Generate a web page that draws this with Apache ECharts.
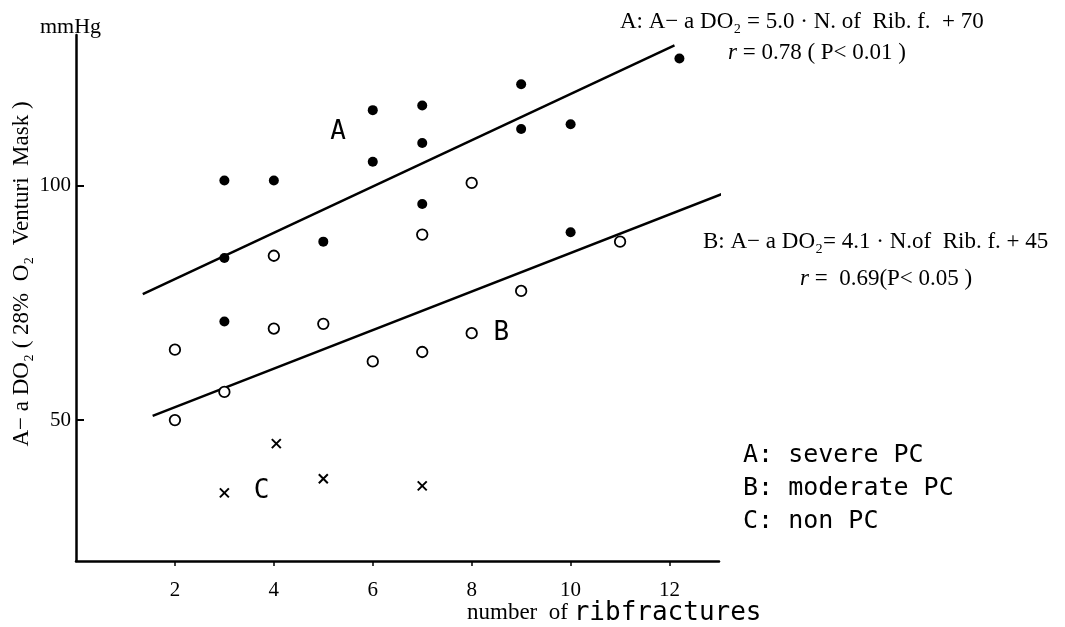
<!DOCTYPE html>
<html>
<head>
<meta charset="utf-8">
<script src="https://cdn.jsdelivr.net/npm/echarts@6/dist/echarts.min.js"></script>
<style>
html, body { margin: 0; padding: 0; background: #fff; }
#main { width: 1065px; height: 627px; }
</style>
</head>
<body>
<div id="main"></div>
<script>
// A: severe PC (filled dots)
const severePC = [
    [3, 101], [4, 101], [3, 84.5], [3, 71], [5, 88],
    [6, 116], [6, 105], [7, 117], [7, 109], [7, 96],
    [9, 121.5], [9, 112], [10, 113], [10, 90], [12.2, 127]
];
// B: moderate PC (open circles)
const moderatePC = [
    [2, 65], [2, 50], [3, 56], [4, 85], [4, 69.5], [5, 70.5],
    [6, 62.5], [7, 64.5], [7, 89.5], [8, 100.5], [8, 68.5],
    [9, 77.5], [11, 88]
];
// C: non PC (crosses)
const nonPC = [[3, 34.5], [4.05, 45], [5, 37.5], [7, 36]];

// regression lines as drawn (end points)
const fitLineA = [[1.35, 76.8], [12.1, 129.8]];
const fitLineB = [[1.55, 50.9], [13.1, 98.3]];

const xTicks = [2, 4, 6, 8, 10, 12];
const yTicks = [50, 100];

// group letters placed in the plot
const groupTags = [
    { name: 'A', value: [5.3, 111.3] },
    { name: 'B', value: [8.6, 68.5] },
    { name: 'C', value: [3.75, 34.8] }
];

const legendLines = ['A: severe PC', 'B: moderate PC', 'C: non PC'];

const serif = '"Liberation Serif", "DejaVu Serif", serif';
const mono = '"DejaVu Sans Mono", monospace';

let myChart = echarts.init(document.getElementById('main'));

let eqRich = {
    r: { fontFamily: serif, fontSize: 23, fontStyle: 'italic', fill: '#000' }
};

let option = {
    backgroundColor: '#fff',
    animation: false,
    grid: { left: 76, right: 346, top: 35, bottom: 66 },
    xAxis: {
        type: 'value',
        min: 0,
        max: 13,
        splitLine: { show: false },
        axisLine: { lineStyle: { color: '#000', width: 2.5 } },
        axisTick: { customValues: xTicks, length: 5, lineStyle: { color: '#000', width: 1.5 } },
        axisLabel: {
            customValues: xTicks,
            margin: 19,
            color: '#000',
            fontFamily: serif,
            fontSize: 21
        }
    },
    yAxis: {
        type: 'value',
        min: 20,
        max: 132,
        splitLine: { show: false },
        axisLine: { show: true, lineStyle: { color: '#000', width: 2.5 } },
        axisTick: { show: true, inside: true, customValues: yTicks, length: 8, lineStyle: { color: '#000', width: 2 } },
        axisLabel: {
            customValues: yTicks,
            margin: 5,
            color: '#000',
            fontFamily: serif,
            fontSize: 21
        }
    },
    series: [
        {
            name: 'fit A',
            type: 'line',
            data: fitLineA,
            symbol: 'none',
            lineStyle: { color: '#000', width: 2.5 },
            z: 1
        },
        {
            name: 'fit B',
            type: 'line',
            data: fitLineB,
            symbol: 'none',
            lineStyle: { color: '#000', width: 2.5 },
            z: 1
        },
        {
            name: 'severe PC',
            type: 'scatter',
            data: severePC,
            symbol: 'circle',
            symbolSize: 10,
            itemStyle: { color: '#000', opacity: 1 },
            z: 3
        },
        {
            name: 'moderate PC',
            type: 'scatter',
            data: moderatePC,
            symbol: 'circle',
            symbolSize: 10.5,
            itemStyle: { color: '#fff', borderColor: '#000', borderWidth: 1.8, opacity: 1 },
            z: 3
        },
        {
            name: 'non PC',
            type: 'scatter',
            data: nonPC,
            symbol: 'path://M0,0L10,10M10,0L0,10',
            symbolSize: 9,
            itemStyle: { color: 'none', borderColor: '#000', borderWidth: 2, opacity: 1 },
            z: 3
        },
        {
            name: 'tags',
            type: 'scatter',
            data: groupTags,
            symbolSize: 0,
            itemStyle: { opacity: 1 },
            label: {
                show: true,
                position: 'inside',
                formatter: '{b}',
                color: '#000',
                opacity: 1,
                fontFamily: mono,
                fontSize: 26
            },
            z: 4
        }
    ],
    graphic: [
        {
            type: 'text', x: 40, y: 27,
            style: { text: 'mmHg', font: '22px ' + serif, fill: '#000', textVerticalAlign: 'middle' }
        },
        {
            type: 'text', x: 22, y: 274, rotation: Math.PI / 2,
            style: {
                text: 'A− a DO₂ ( 28%  O₂  Venturi  Mask )',
                font: '23px ' + serif, fill: '#000',
                textAlign: 'center', textVerticalAlign: 'middle'
            }
        },
        {
            type: 'text', x: 467, y: 613,
            style: {
                text: 'number  of {m|ribfractures}',
                font: '23px ' + serif, fill: '#000', textVerticalAlign: 'middle',
                rich: { m: { fontFamily: mono, fontSize: 26, fill: '#000' } }
            }
        },
        {
            type: 'text', x: 620, y: 22,
            style: {
                text: 'A: A− a DO₂ = 5.0 · N. of  Rib. f.  + 70',
                font: '23px ' + serif, fill: '#000', textVerticalAlign: 'middle'
            }
        },
        {
            type: 'text', x: 728, y: 53,
            style: {
                text: '{r|r} = 0.78 ( P< 0.01 )',
                font: '23px ' + serif, fill: '#000', textVerticalAlign: 'middle', rich: eqRich
            }
        },
        {
            type: 'text', x: 703, y: 242,
            style: {
                text: 'B: A− a DO₂= 4.1 · N.of  Rib. f. + 45',
                font: '23px ' + serif, fill: '#000', textVerticalAlign: 'middle'
            }
        },
        {
            type: 'text', x: 800, y: 279,
            style: {
                text: '{r|r} =  0.69(P< 0.05 )',
                font: '23px ' + serif, fill: '#000', textVerticalAlign: 'middle', rich: eqRich
            }
        },
        {
            type: 'text', x: 743, y: 455,
            style: { text: legendLines[0], font: '25px ' + mono, fill: '#000', textVerticalAlign: 'middle' }
        },
        {
            type: 'text', x: 743, y: 488,
            style: { text: legendLines[1], font: '25px ' + mono, fill: '#000', textVerticalAlign: 'middle' }
        },
        {
            type: 'text', x: 743, y: 521,
            style: { text: legendLines[2], font: '25px ' + mono, fill: '#000', textVerticalAlign: 'middle' }
        }
    ]
};
myChart.setOption(option);
</script>
</body>
</html>
